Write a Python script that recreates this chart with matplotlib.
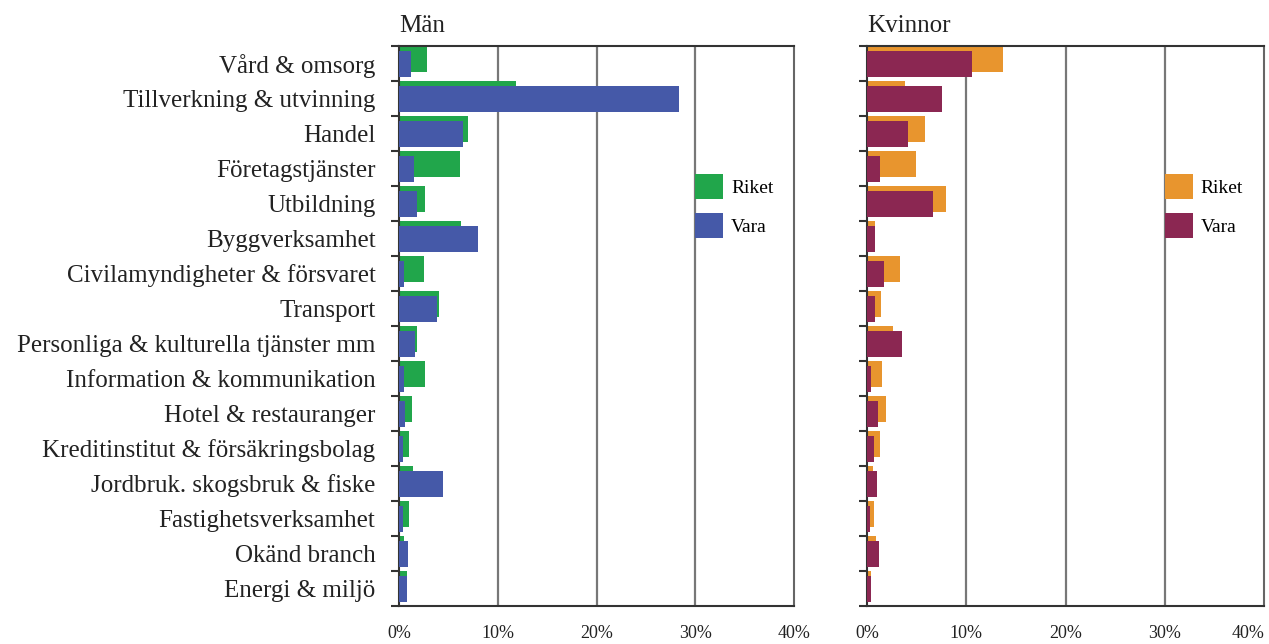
import matplotlib
matplotlib.use("Agg")
import matplotlib.pyplot as plt
from matplotlib.patches import Patch
import numpy as np

plt.rcParams['font.family'] = ['Liberation Serif', 'DejaVu Serif']

categories = ["Vård & omsorg", "Tillverkning & utvinning", "Handel", "Företagstjänster",
              "Utbildning", "Byggverksamhet", "Civilamyndigheter & försvaret", "Transport",
              "Personliga & kulturella tjänster mm", "Information & kommunikation",
              "Hotel & restauranger", "Kreditinstitut & försäkringsbolag",
              "Jordbruk. skogsbruk & fiske", "Fastighetsverksamhet", "Okänd branch",
              "Energi & miljö"]

man_riket = [2.8, 11.8, 7.0, 6.2, 2.6, 6.3, 2.5, 4.0, 1.8, 2.6, 1.3, 1.0, 1.4, 1.0, 0.5, 0.8]
man_vara = [1.2, 28.4, 6.5, 1.5, 1.8, 8.0, 0.5, 3.8, 1.6, 0.5, 0.6, 0.4, 4.45, 0.4, 0.9, 0.8]
kv_riket = [13.7, 3.8, 5.8, 4.9, 8.0, 0.8, 3.3, 1.4, 2.6, 1.5, 1.9, 1.3, 0.6, 0.7, 0.9, 0.4]
kv_vara = [10.6, 7.6, 4.1, 1.3, 6.6, 0.8, 1.7, 0.8, 3.5, 0.4, 1.1, 0.7, 1.0, 0.3, 1.2, 0.4]

xticks = [0, 10, 20, 30, 40]
xticklabels = ["0%", "10%", "20%", "30%", "40%"]
legend_labels = ["Riket", "Vara"]
titles = ["Män", "Kvinnor"]

W, H = 1269, 644
fig = plt.figure(figsize=(W / 100, H / 100), dpi=100)

def axrect(x0, x1, y0, y1):
    return [x0 / W, 1 - y1 / H, (x1 - x0) / W, (y1 - y0) / H]

ax1 = fig.add_axes(axrect(399, 794, 46, 606))
ax2 = fig.add_axes(axrect(867, 1264, 46, 606))

panels = [
    (ax1, man_riket, man_vara, "#21a64b", "#4559a8", True),
    (ax2, kv_riket, kv_vara, "#e8952e", "#8b2752", False),
]

y = np.arange(len(categories))
for ax, riket, vara, c1, c2, show_labels in panels:
    for gx in [10, 20, 30]:
        ax.axvline(gx, color="#777777", lw=1.6, zorder=0)
    ax.barh(y - 0.13, riket, height=0.74, color=c1, zorder=2)
    ax.barh(y + 0.01, vara, height=0.76, color=c2, zorder=3)
    ax.set_xlim(0, 40)
    ax.set_ylim(len(categories) - 0.5, -0.5)
    ax.set_xticks(xticks)
    ax.set_xticklabels(xticklabels, fontsize=13, color="#222222")
    ax.tick_params(axis="x", length=0, pad=14)
    ax.set_yticks(y)
    if show_labels:
        ax.set_yticklabels(categories, fontsize=18, color="#222222")
    else:
        ax.set_yticklabels([])
    ax.tick_params(axis="y", which="major", length=0, pad=17)
    ax.set_yticks(np.arange(-0.5, len(categories)), minor=True)
    ax.tick_params(axis="y", which="minor", length=6, width=1.5, color="#333333")
    for s in ["top", "bottom", "left"]:
        ax.spines[s].set_color("#333333")
        ax.spines[s].set_linewidth(1.5)
    ax.spines["right"].set_color("#666666")
    ax.spines["right"].set_linewidth(1.5)
    handles = [Patch(facecolor=c1, edgecolor="none"), Patch(facecolor=c2, edgecolor="none")]
    ax.legend(handles, legend_labels, loc="upper left", bbox_to_anchor=(0.75, 0.771),
              frameon=False, fontsize=14, borderpad=0, borderaxespad=0,
              handlelength=1.45, handleheight=1.6, handletextpad=0.4,
              labelspacing=0.7)

# keep the last tick label of the right panel inside the figure
ax2.get_xticklabels()[-1].set_horizontalalignment("right")

ax1.set_title(titles[0], loc="left", fontsize=18, pad=10, color="#222222")
ax2.set_title(titles[1], loc="left", fontsize=18, pad=10, color="#222222")

fig.savefig("out.png", dpi=100)
